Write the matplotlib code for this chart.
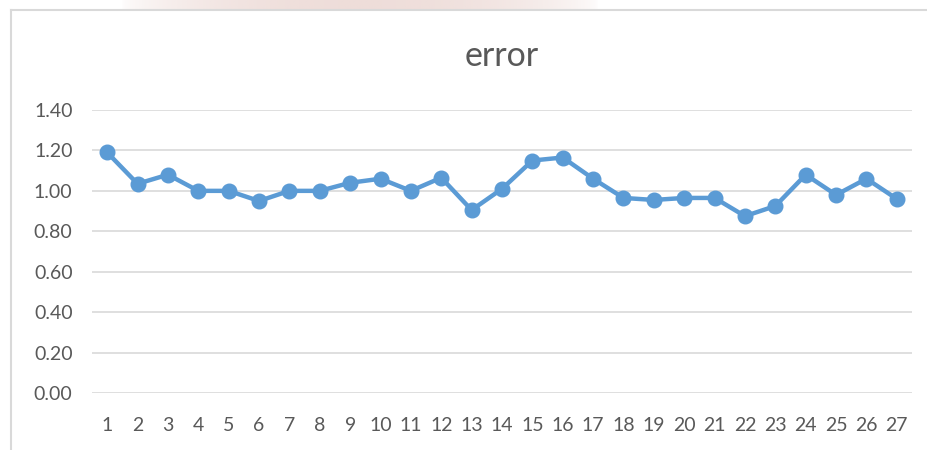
"""Excel-style line chart of error values per run."""

import numpy as np
import matplotlib
matplotlib.use("Agg")
import matplotlib.pyplot as plt
from matplotlib.lines import Line2D

# data
runs = list(range(1, 28))
error = [1.19, 1.035, 1.08, 1.00, 1.00, 0.95, 1.00, 1.00, 1.04, 1.06,
         1.00, 1.065, 0.905, 1.01, 1.15, 1.165, 1.06, 0.965, 0.955, 0.965,
         0.965, 0.875, 0.925, 1.08, 0.98, 1.06, 0.96]
y_ticks = [0.0, 0.2, 0.4, 0.6, 0.8, 1.0, 1.2, 1.4]

plt.rcParams['font.family'] = ['Lato', 'DejaVu Sans']

W, H = 928, 450
fig = plt.figure(figsize=(W / 100, H / 100), dpi=100)
fig.patch.set_facecolor('white')

# faint background showing above the chart frame
bg = fig.add_axes([120 / W, 1 - 10 / H, 480 / W, 10 / H], zorder=0)
fade = np.sin(np.linspace(0, np.pi, 200)) ** 0.6
rgba = np.zeros((1, 200, 4))
rgba[..., :3] = np.array([233, 210, 205]) / 255
rgba[..., 3] = fade * 0.75
bg.imshow(rgba, aspect='auto', extent=(0, 1, 0, 1))
bg.axis('off')

# chart frame (left and top edges)
fig.add_artist(Line2D([11 / W, 11 / W], [0, 1 - 10 / H],
                      transform=fig.transFigure, color='#d9d9d9', lw=1.5))
fig.add_artist(Line2D([11 / W, 1], [1 - 10 / H, 1 - 10 / H],
                      transform=fig.transFigure, color='#d9d9d9', lw=1.5))

ax = fig.add_axes([92 / W, 1 - 393 / H, (912 - 92) / W, (393 - 110) / H])
ax.plot(runs, error, color='#5b9bd5', lw=3.2, marker='o', markersize=10.5,
        solid_capstyle='round', zorder=3)

ax.set_xlim(0.5, 27.5)
ax.set_ylim(0, 1.4)
ax.set_yticks(y_ticks)
ax.set_yticklabels([f"{v:.2f}" for v in y_ticks])
ax.set_xticks(runs)
ax.set_xticklabels([str(r) for r in runs])
ax.grid(axis='y', color='#d9d9d9', lw=1.2)
ax.set_axisbelow(True)
for s in ax.spines.values():
    s.set_visible(False)
ax.tick_params(length=0, labelsize=14, colors='#595959')
ax.tick_params(axis='y', pad=14)
ax.tick_params(axis='x', pad=17)

fig.text((92 + 912) / 2 / W, 1 - 56 / H, "error", ha='center', va='center',
         fontsize=24.5, color='#595959')

fig.savefig("out.png", dpi=100)
